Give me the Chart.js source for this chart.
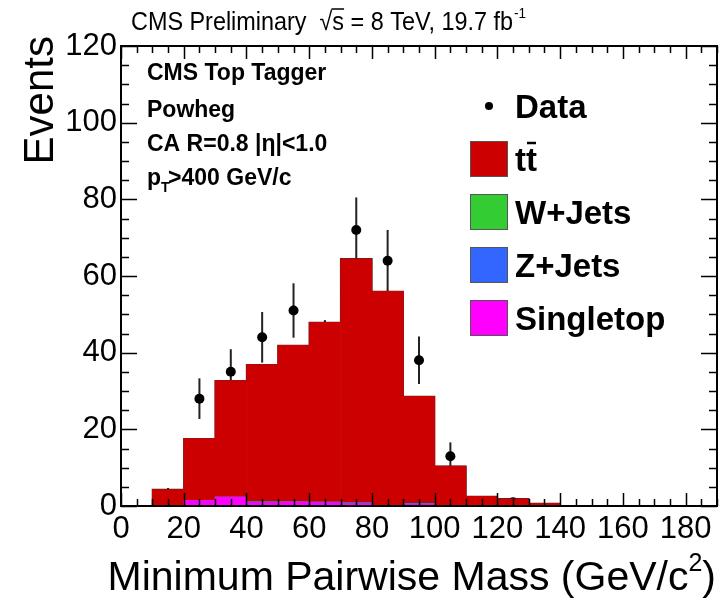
<!DOCTYPE html>
<html><head><meta charset="utf-8">
<script src="https://cdn.jsdelivr.net/npm/chart.js@4"></script>
<style>html,body{margin:0;padding:0;background:#fff}canvas{display:block}</style>
</head><body>
<canvas id="c" width="725" height="600"></canvas>
<script>
// ---- data ----
const binCenters = [5,15,25,35,45,55,65,75,85,95,105,115,125,135,145,155,165,175,185];
const ttbar      = [0,4.3,16.2,30.4,35.8,40.8,46.9,63.7,55.8,28.0,10.4,2.5,1.9,0.7,0,0,0,0,0];
const wjets      = [0,0,0,0,0,0,0,0,0,0,0,0,0,0,0,0,0,0,0];
const zjets      = [0,0,0,0,0.2,0.1,0.1,0.2,0,0.2,0,0,0,0,0,0,0,0,0];
const singletop  = [0,0,1.4,2.3,0.9,1.0,0.9,0.6,0.2,0.4,0,0,0,0,0,0,0,0,0];
const dataX      = [15,25,35,45,55,65,75,85,95,105,115,125];
const dataY      = [3,28,35,44,51,42,72,64,38,13,1,1];
const dataErr    = [1.7,5.3,5.9,6.6,7.1,6.5,8.5,8.0,6.2,3.6,1.0,1.0];
const xTickLabels = [0,20,40,60,80,100,120,140,160,180];
const yTickLabels = [0,20,40,60,80,100,120];

const FF = '"Liberation Sans", Arial, Helvetica, sans-serif';
const COL = {tt:'#cc0000', w:'#33cc33', z:'#3366ff', st:'#ff00ff'};

function pts(arr){ return binCenters.map((x,i)=>({x:x,y:arr[i]})); }

function stepOutline(c, meta){
  const els = meta.data;
  let first=-1, last=-1;
  els.forEach((e,i)=>{ if(Math.abs(e.base-e.y)>0.3){ if(first<0) first=i; last=i; } });
  if(first<0) return;
  c.beginPath();
  const e0=els[first];
  c.moveTo(e0.x-e0.width/2, e0.base);
  for(let i=first;i<=last;i++){
    const e=els[i];
    c.lineTo(e.x-e.width/2, e.y);
    c.lineTo(e.x+e.width/2, e.y);
  }
  const eL=els[last];
  c.lineTo(eL.x+eL.width/2, eL.base);
  c.stroke();
}

const decor = {
  id:'decor',
  beforeDatasetDraw(chart,args){
    if(args.index!==4) return;
    const c=chart.ctx, ys=chart.scales.y;
    c.save();
    c.strokeStyle='#333'; c.lineWidth=1.3;
    [0,1,3].forEach(k=>stepOutline(c, chart.getDatasetMeta(k)));
    c.strokeStyle='#222'; c.lineWidth=2;
    args.meta.data.forEach((p,i)=>{
      c.beginPath();
      c.moveTo(p.x, ys.getPixelForValue(dataY[i]-dataErr[i]));
      c.lineTo(p.x, ys.getPixelForValue(dataY[i]+dataErr[i]));
      c.stroke();
    });
    c.restore();
  },
  afterDatasetsDraw(chart){
    const c=chart.ctx, xs=chart.scales.x, ys=chart.scales.y;
    const {left,right,top,bottom}=chart.chartArea;
    c.save();
    c.strokeStyle='#000'; c.lineWidth=1.5;
    c.beginPath();
    for(let v=xs.min; v<=xs.max; v+=5){
      const px=Math.round(xs.getPixelForValue(v))+0.5;
      const L = v%20===0?13:7;
      c.moveTo(px,bottom); c.lineTo(px,bottom-L);
      c.moveTo(px,top); c.lineTo(px,top+L);
    }
    for(let v=ys.min; v<=ys.max; v+=5){
      const py=Math.round(ys.getPixelForValue(v))+0.5;
      const L = v%20===0?16:8;
      c.moveTo(left,py); c.lineTo(left+L,py);
      c.moveTo(right,py); c.lineTo(right-L,py);
    }
    c.stroke();
    c.lineWidth=2;
    c.strokeRect(left,top,right-left,bottom-top);
    c.restore();
  },
  afterDraw(chart){
    const c=chart.ctx;
    c.save();
    c.fillStyle='#000'; c.strokeStyle='#000';
    c.textBaseline='alphabetic'; c.textAlign='left';
    c.save();
    c.translate(131,30); c.scale(0.9,1);
    let x=0, y=0;
    c.font='26px '+FF;
    let s='CMS Preliminary  ';
    c.fillText(s,x,y); x+=c.measureText(s).width;
    c.fillText('\u221A',x,y); x+=c.measureText('\u221A').width;
    const sw=c.measureText('s').width;
    c.fillText('s',x,y);
    c.lineWidth=1.5; c.beginPath(); c.moveTo(x-1,y-21); c.lineTo(x+sw,y-21); c.stroke();
    x+=sw;
    s=' = 8 TeV, 19.7 fb';
    c.fillText(s,x,y); x+=c.measureText(s).width;
    c.font='15px '+FF; c.fillText('-1',x+1,y-12);
    c.restore();
    c.font='bold 23px '+FF;
    c.fillText('CMS Top Tagger',147,80);
    c.fillText('Powheg',147,117);
    c.fillText('CA R=0.8 |\u03B7|<1.0',147,151);
    c.fillText('p',147,185);
    let pw=c.measureText('p').width;
    c.font='bold 14px '+FF; c.fillText('T',147+pw,192);
    c.font='bold 23px '+FF; c.fillText('>400 GeV/c',147+pw+7,185);
    const rows=[106,159,212,265,318];
    const ds=chart.data.datasets;
    const legendItems=[{i:4,dot:true},{i:3},{i:2},{i:1},{i:0}];
    c.font='bold 33px '+FF;
    legendItems.forEach((it,k)=>{
      const cy=rows[k], d=ds[it.i];
      if(it.dot){
        c.beginPath(); c.arc(489,cy,4,0,Math.PI*2); c.fill();
      } else {
        c.fillStyle=d.backgroundColor; c.fillRect(470,cy-18,38,36);
        c.strokeStyle='#555'; c.lineWidth=1; c.strokeRect(470.5,cy-17.5,37,35);
        c.fillStyle='#000';
      }
      const tx=515, ty=cy+12;
      if(d.label==='tt'){
        c.fillText('tt',tx,ty);
        const tw=c.measureText('t').width;
        c.lineWidth=2.5; c.strokeStyle='#000';
        c.beginPath(); c.moveTo(tx+tw+1,ty-28); c.lineTo(tx+2*tw-1,ty-28); c.stroke();
      } else {
        c.fillText(d.label,tx,ty);
      }
    });
    c.textAlign='right';
    const xt='Minimum Pairwise Mass (GeV/c';
    c.font='25px '+FF;
    const supW=c.measureText('2').width;
    c.font='41px '+FF;
    const pW=c.measureText(')').width;
    let xr=716;
    c.fillText(')',xr,590); xr-=pW;
    c.font='25px '+FF; c.fillText('2',xr,571); xr-=supW;
    c.font='41px '+FF; c.fillText(xt,xr,590);
    c.save();
    c.font='42px '+FF;
    c.translate(53,36); c.rotate(-Math.PI/2);
    c.textAlign='right';
    c.fillText('Events',0,0);
    c.restore();
    c.restore();
  }
};

new Chart(document.getElementById('c'), {
  type:'bar',
  data:{
    datasets:[
      {label:'Singletop', data:pts(singletop), backgroundColor:COL.st},
      {label:'Z+Jets', data:pts(zjets), backgroundColor:COL.z},
      {label:'W+Jets', data:pts(wjets), backgroundColor:COL.w},
      {label:'tt', data:pts(ttbar), backgroundColor:COL.tt},
      {type:'line', label:'Data', data:dataX.map((x,i)=>({x:x,y:dataY[i]})), showLine:false,
       pointRadius:5, pointBackgroundColor:'#000', pointBorderWidth:0, stack:'data', order:0}
    ]
  },
  options:{
    responsive:false, animation:false,
    layout:{padding:{top:46,right:8,left:0,bottom:0}},
    plugins:{legend:{display:false}, tooltip:{enabled:false}, title:{display:false}},
    datasets:{bar:{barPercentage:1, categoryPercentage:1, borderWidth:0, order:1}},
    scales:{
      x:{type:'linear', min:0, max:190, offset:false, stacked:true,
         grid:{display:false, drawTicks:false}, border:{display:false},
         afterBuildTicks:s=>{ s.ticks=xTickLabels.map(v=>({value:v})); },
         afterFit:s=>{ s.height=94; },
         ticks:{font:{family:FF,size:31}, color:'#000', padding:5, maxRotation:0, autoSkip:false}},
      y:{type:'linear', min:0, max:120, stacked:true,
         grid:{display:false, drawTicks:false}, border:{display:false},
         afterBuildTicks:s=>{ s.ticks=yTickLabels.map(v=>({value:v})); },
         afterFit:s=>{ s.width=121; },
         ticks:{font:{family:FF,size:31}, color:'#000', padding:4, autoSkip:false}}
    }
  },
  plugins:[decor]
});
</script>
</body></html>
